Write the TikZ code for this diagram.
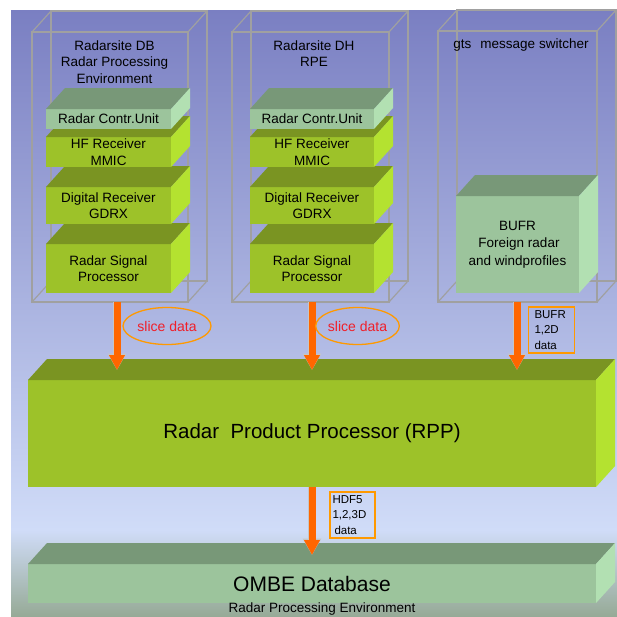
\documentclass[tikz,border=0pt]{standalone}
\usepackage{fontspec}
\setmainfont{Liberation Sans}
\usetikzlibrary{arrows.meta,shapes.geometric}
\definecolor{bgtop}{RGB}{122,127,194}
\definecolor{bgmid}{RGB}{208,220,248}
\definecolor{bgbot}{RGB}{150,170,150}
\definecolor{gfront}{RGB}{157,194,41}
\definecolor{gtop}{RGB}{122,148,34}
\definecolor{gside}{RGB}{180,226,48}
\definecolor{lfront}{RGB}{156,196,156}
\definecolor{ltop}{RGB}{120,152,120}
\definecolor{lside}{RGB}{178,224,178}
\definecolor{wire}{RGB}{160,160,160}
\definecolor{arr}{RGB}{255,102,0}
\definecolor{tagc}{RGB}{255,153,0}
\definecolor{slicered}{RGB}{240,30,40}
\newcommand\cubefaces[3]{%
  \fill[#2] (#1.north west) -- ([shift={(19,-21)}]#1.north west) -- ([shift={(19,-21)}]#1.north east) -- (#1.north east) -- cycle;
  \fill[#3] (#1.north east) -- ([shift={(19,-21)}]#1.north east) -- ([shift={(19,-21)}]#1.south east) -- (#1.south east) -- cycle;}
\newcommand\wireback[1]{%
  \draw[wirebox] ([shift={(19,-21)}]#1.north west) rectangle ([shift={(19,-21)}]#1.south east);
  \foreach \a in {north west,north east,south west,south east}
    \draw[wirebox] (#1.\a) -- ([shift={(19,-21)}]#1.\a);}
\tikzset{
  every node/.style={inner sep=0pt, outer sep=0pt},
  lbl/.style={font=\fontsize{13.5}{16.5}\selectfont, align=center, text=black},
  gblk/.style={lbl, fill=gfront},
  lblk/.style={lbl, fill=lfront},
  wirebox/.style={draw=wire, line width=1.2pt},
  flow/.style={draw=arr, line width=7pt, -{Triangle[length=15pt,width=15pt]},
    preaction={draw=wire!60!white, line width=8.6pt, -{Triangle[length=16.5pt,width=17.5pt]}}},
  slice/.style={ellipse, draw=tagc, line width=1.3pt, text=slicered, font=\fontsize{14}{16}\selectfont},
  tagbox/.style={draw=tagc, line width=1.3pt, align=left, minimum height=46pt,
    font=\fontsize{11.5}{15.5}\selectfont},
}
\begin{document}
\begin{tikzpicture}[x=1pt,y=-1pt]
\useasboundingbox (0,0) rectangle (617,616);
% background
\fill[top color=bgtop, bottom color=bgmid] (11,10) rectangle (617,530);
\fill[top color=bgmid, bottom color=bgbot] (11,530) rectangle (617,616.5);
% wire frames
\node[wirebox, minimum width=156pt, minimum height=270pt] (w1) at (110,167) {};
\wireback{w1}
\node[wirebox, minimum width=157pt, minimum height=270pt] (w2) at (310.5,167) {};
\wireback{w2}
\node[wirebox, minimum width=159pt, minimum height=271pt] (w3) at (517.5,166.5) {};
\wireback{w3}
\node[lbl] (t1) at (114.5,62) {Radarsite DB\\Radar Processing\\Environment};
\node[lbl] (t2) at (314,53.5) {Radarsite DH\\RPE};
\node[lbl] (t3) at (521,45) {gts\hspace{9pt}message switcher};
% column 1 blocks
\node[gblk, minimum width=125pt, minimum height=49pt] (rsp1) at (108.5,268.5) {Radar Signal\\Processor};
\cubefaces{rsp1}{gtop}{gside}
\node[gblk, minimum width=125pt, minimum height=37pt] (dr1) at (108.5,205.5) {Digital Receiver\\GDRX};
\cubefaces{dr1}{gtop}{gside}
\node[gblk, minimum width=125pt, minimum height=30pt] (hf1) at (108.5,152) {HF Receiver\\MMIC};
\cubefaces{hf1}{gtop}{gside}
\node[lblk, minimum width=125pt, minimum height=20pt] (rcu1) at (108.5,119) {Radar Contr.Unit};
\cubefaces{rcu1}{ltop}{lside}
% column 2 blocks
\node[gblk, minimum width=124pt, minimum height=49pt] (rsp2) at (312,268.5) {Radar Signal\\Processor};
\cubefaces{rsp2}{gtop}{gside}
\node[gblk, minimum width=124pt, minimum height=37pt] (dr2) at (312,205.5) {Digital Receiver\\GDRX};
\cubefaces{dr2}{gtop}{gside}
\node[gblk, minimum width=124pt, minimum height=30pt] (hf2) at (312,152) {HF Receiver\\MMIC};
\cubefaces{hf2}{gtop}{gside}
\node[lblk, minimum width=124pt, minimum height=20pt] (rcu2) at (312,119) {Radar Contr.Unit};
\cubefaces{rcu2}{ltop}{lside}
% column 3 block
\node[lblk, font=\fontsize{13.5}{17.5}\selectfont, minimum width=123pt, minimum height=97pt] (bufr) at (517.5,244.5) {BUFR\\\hspace{3pt}Foreign radar\\and windprofiles};
\cubefaces{bufr}{ltop}{lside}
% RPP
\node[gblk, font=\fontsize{20.5}{24}\selectfont, minimum width=568pt, minimum height=107pt] (rpp) at (312,433.5) {Radar~~Product Processor (RPP)};
\cubefaces{rpp}{gtop}{gside}
% OMBE
\node[lblk, font=\fontsize{21}{24}\selectfont, minimum width=568pt, minimum height=39pt] (ombe) at (312,583.5) {OMBE Database};
\cubefaces{ombe}{ltop}{lside}
\node[lbl] (rpe) at (322,609) {Radar Processing Environment};
% arrows
\coordinate (a1s) at (117,302);
\coordinate (a1e) at (117,370);
\coordinate (a2s) at (312,302);
\coordinate (a2e) at (312,370);
\coordinate (a3s) at (517,302);
\coordinate (a3e) at (517,370);
\coordinate (a4e) at (312,555);
\draw[flow] (a1s) -- (a1e);
\draw[flow] (a2s) -- (a2e);
\draw[flow] (a3s) -- (a3e);
\draw[flow] (rpp.south) -- (a4e);
% labels
\node[slice, minimum width=88pt, minimum height=37pt] (sd1) at (167,326) {slice data};
\node[slice, minimum width=81pt, minimum height=37pt] (sd2) at (357.5,326) {slice data};
\node[tagbox, minimum width=45pt, text width=34pt, inner xsep=6pt] (tb1) at (551.5,330) {BUFR\\1,2D\\data};
\node[tagbox, minimum width=45pt, text width=40pt, inner xsep=2.5pt] (tb2) at (352.5,515) {HDF5\\1,2,3D\\\hspace{2pt}data};
\end{tikzpicture}
\end{document}
